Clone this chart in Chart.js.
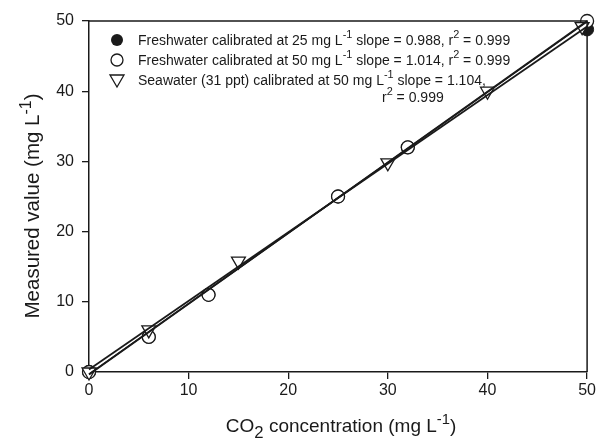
<!DOCTYPE html>
<html>
<head>
<meta charset="utf-8">
<script src="https://cdn.jsdelivr.net/npm/chart.js@4.4.0/dist/chart.umd.min.js"></script>
<style>
  html, body { margin: 0; padding: 0; background: #fff; }
  #wrap { width: 598px; height: 443px; }
</style>
</head>
<body>
<div id="wrap"><canvas id="my-chart" width="598" height="443"></canvas></div>
<script>
const freshConc = [0, 6, 12, 25, 32, 50];
const fresh25 = [0, 5, 11, 25, 32, 48.8];
const fresh50 = [0, 5, 11, 25, 32, 50];
const seaConc = [0, 6, 15, 30, 40, 49.5];
const sea50 = [0, 6, 15.8, 29.8, 40, 49.2];

// ends of the fitted lines
const fitX = [0, 50];
const fit25 = [0.35, 49.2];
const fit50 = [-0.35, 50];
const fitSea = [-0.3, 49.9];

const xTicks = [0, 10, 20, 30, 40, 50];
const yTicks = [0, 10, 20, 30, 40, 50];

// legend text, pieces marked sup/sub
const legendRows = [
  [["Freshwater calibrated at 25 mg L"], ["-1", "sup"], [" slope = 0.988, r"], ["2", "sup"], [" = 0.999"]],
  [["Freshwater calibrated at 50 mg L"], ["-1", "sup"], [" slope = 1.014, r"], ["2", "sup"], [" = 0.999"]],
  [["Seawater (31 ppt) calibrated at 50 mg L"], ["-1", "sup"], [" slope = 1.104,"]],
  [["r"], ["2", "sup"], [" = 0.999"]]
];
const xTitle = [["CO"], ["2", "sub"], [" concentration (mg L"], ["-1", "sup"], [")"]];
const yTitle = [["Measured value (mg L"], ["-1", "sup"], [")"]];

const ink = "#1a1a1a";
const fontName = "'Liberation Sans', Arial, sans-serif";

function toPoints(xs, ys) {
  return xs.map((x, i) => ({ x: x, y: ys[i] }));
}

// draw a run of text with small raised / lowered pieces
function partSize(p, size) {
  if (p[1] === "sup") return size * 0.78;
  if (p[1] === "sub") return size * 0.88;
  return size;
}

function richWidth(ctx, parts, size) {
  let w = 0;
  parts.forEach(p => {
    ctx.font = partSize(p, size) + "px " + fontName;
    w += ctx.measureText(p[0]).width;
  });
  return w;
}

function drawRich(ctx, parts, x, y, size) {
  let cx = x;
  parts.forEach(p => {
    let dy = 0;
    if (p[1] === "sup") dy = -size * 0.4;
    if (p[1] === "sub") dy = size * 0.3;
    ctx.font = partSize(p, size) + "px " + fontName;
    ctx.fillText(p[0], cx, y + dy);
    cx += ctx.measureText(p[0]).width;
  });
}

const extras = {
  id: "extras",
  afterDraw(chart) {
    const ctx = chart.ctx;
    const a = chart.chartArea;
    ctx.save();
    // top and right frame
    ctx.strokeStyle = ink;
    ctx.lineWidth = 1.5;
    ctx.beginPath();
    ctx.moveTo(a.left, a.top);
    ctx.lineTo(a.right, a.top);
    ctx.lineTo(a.right, a.bottom);
    ctx.stroke();

    // legend
    ctx.fillStyle = ink;
    ctx.textAlign = "left";
    ctx.textBaseline = "middle";
    const rowY = [41, 61, 81, 98];
    legendRows.forEach((row, i) => {
      const x = i === 3 ? 382 : 138;
      drawRich(ctx, row, x, rowY[i], 14);
    });
    ctx.lineWidth = 1.3;
    // filled circle
    ctx.beginPath();
    ctx.arc(117, 40, 6, 0, Math.PI * 2);
    ctx.fill();
    // open circle
    ctx.beginPath();
    ctx.arc(117, 60, 6, 0, Math.PI * 2);
    ctx.stroke();
    // down triangle
    ctx.beginPath();
    ctx.moveTo(110, 75);
    ctx.lineTo(124, 75);
    ctx.lineTo(117, 87);
    ctx.closePath();
    ctx.stroke();

    // axis titles
    ctx.textBaseline = "alphabetic";
    const xs = 19;
    const xw = richWidth(ctx, xTitle, xs);
    drawRich(ctx, xTitle, (a.left + a.right) / 2 - xw / 2 + 3, 432, xs);

    const ys = 20.5;
    const yw = richWidth(ctx, yTitle, ys);
    ctx.translate(39, 206);
    ctx.rotate(-Math.PI / 2);
    drawRich(ctx, yTitle, -yw / 2, 0, ys);
    ctx.restore();
  }
};

const ctx = document.getElementById("my-chart").getContext("2d");

const myChart = new Chart(ctx, {
  type: "scatter",
  data: {
    datasets: [
      {
        label: "fit 25",
        data: toPoints(fitX, fit25),
        showLine: true,
        borderColor: ink,
        borderWidth: 1.8,
        pointRadius: 0,
        order: 0,
        clip: false
      },
      {
        label: "fit 50",
        data: toPoints(fitX, fit50),
        showLine: true,
        borderColor: ink,
        borderWidth: 1.8,
        pointRadius: 0,
        order: 0,
        clip: false
      },
      {
        label: "fit seawater",
        data: toPoints(fitX, fitSea),
        showLine: true,
        borderColor: ink,
        borderWidth: 1.5,
        pointRadius: 0,
        order: 0,
        clip: false
      },
      {
        label: "Seawater (31 ppt) calibrated at 50 mg L-1",
        data: toPoints(seaConc, sea50),
        pointStyle: "triangle",
        rotation: 180,
        pointRadius: 8,
        backgroundColor: "#fff",
        borderColor: ink,
        borderWidth: 1.3,
        order: 1,
        clip: false
      },
      {
        label: "Freshwater calibrated at 50 mg L-1",
        data: toPoints(freshConc, fresh50),
        pointStyle: "circle",
        pointRadius: 6.5,
        backgroundColor: "#fff",
        borderColor: ink,
        borderWidth: 1.3,
        order: 2,
        clip: false
      },
      {
        label: "Freshwater calibrated at 25 mg L-1",
        data: toPoints(freshConc, fresh25),
        pointStyle: "circle",
        pointRadius: 6.5,
        backgroundColor: ink,
        borderColor: ink,
        borderWidth: 1,
        order: 3,
        clip: false
      }
    ]
  },
  options: {
    responsive: false,
    animation: false,
    devicePixelRatio: 1,
    layout: { autoPadding: false, padding: { top: 21, right: 7, left: 0, bottom: 0 } },
    plugins: {
      legend: { display: false },
      tooltip: { enabled: false }
    },
    scales: {
      x: {
        type: "linear",
        min: 0,
        max: 50,
        afterFit: scale => { scale.height = 71; },
        afterBuildTicks: scale => { scale.ticks = xTicks.map(v => ({ value: v })); },
        grid: { drawOnChartArea: false, tickLength: 7, color: ink, lineWidth: 1.3 },
        border: { color: ink, width: 1.5 },
        ticks: { color: ink, padding: 2, maxRotation: 0, font: { family: fontName, size: 16 } }
      },
      y: {
        type: "linear",
        min: 0,
        max: 50,
        afterFit: scale => { scale.width = 89; },
        afterBuildTicks: scale => { scale.ticks = yTicks.map(v => ({ value: v })); },
        grid: { drawOnChartArea: false, tickLength: 7, color: ink, lineWidth: 1.3 },
        border: { color: ink, width: 1.5 },
        ticks: { color: ink, padding: 8, font: { family: fontName, size: 16 } }
      }
    }
  },
  plugins: [extras]
});
</script>
</body>
</html>
